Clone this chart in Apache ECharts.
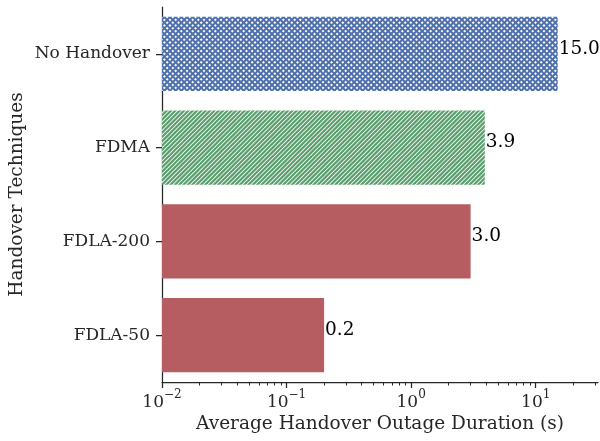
<!DOCTYPE html>
<html>
<head>
<meta charset="utf-8">
<script src="https://cdn.jsdelivr.net/npm/echarts@6/dist/echarts.min.js"></script>
<style>html,body{margin:0;padding:0;background:#fff}#c{width:600px;height:441px}</style>
</head>
<body>
<div id="c"></div>
<script>
const categories = ['No Handover', 'FDMA', 'FDLA-200', 'FDLA-50'];
const values = [15.0, 3.9, 3.0, 0.2];
const xMajorTicks = [0.01, 0.1, 1, 10];
const xMajorExponents = ['\u22122', '\u22121', '0', '1'];
const xMinorTicks = [0.02,0.03,0.04,0.05,0.06,0.07,0.08,0.09,0.2,0.3,0.4,0.5,0.6,0.7,0.8,0.9,2,3,4,5,6,7,8,9,20,30];
const xMin = 0.01, xMax = 31.6;

const FONT = 'DejaVu Serif';

function hatch(T, p, lw, color, both) {
  const c = document.createElement('canvas');
  c.width = T; c.height = T;
  const g = c.getContext('2d');
  g.fillStyle = '#fff'; g.fillRect(0, 0, T, T);
  g.strokeStyle = color; g.lineWidth = lw;
  for (let k = -6; k <= 12; k++) {
    const s = k * p;
    g.beginPath(); g.moveTo(s - T, 2 * T); g.lineTo(s + 2 * T, -T); g.stroke();
    if (both) { g.beginPath(); g.moveTo(s - T, -T); g.lineTo(s + 2 * T, 2 * T); g.stroke(); }
  }
  return c;
}
const bluePat = hatch(17, 17 / 3, 2.0, '#4e70ab', true);
const greenPat = hatch(13, 13 / 3, 2.2, '#5a9e6e', false);
const fills = [
  { image: bluePat, repeat: 'repeat' },
  { image: greenPat, repeat: 'repeat' },
  '#b55d60',
  '#b55d60'
];

const chart = echarts.init(document.getElementById('c'), null, { renderer: 'canvas' });
chart.setOption({
  animation: false,
  grid: { left: 162, right: 2, top: 7, bottom: 59, containLabel: false, outerBoundsMode: 'none' },
  xAxis: [{
    type: 'log', logBase: 10, min: xMin, max: xMax, startValue: xMin,
    name: 'Average Handover Outage Duration (s)', nameLocation: 'middle', nameGap: 33,
    nameMoveOverlap: false,
    nameTextStyle: { fontFamily: FONT, fontSize: 18.5, color: '#262626' },
    axisLine: { show: true, lineStyle: { color: '#262626', width: 1.25 } },
    axisTick: { show: true, length: 6, lineStyle: { color: '#262626', width: 1.25 }, customValues: xMajorTicks },
    axisLabel: {
      customValues: xMajorTicks, margin: 7,
      formatter: function (v) {
        let i = xMajorTicks.findIndex(t => Math.abs(Math.log10(t) - Math.log10(v)) < 1e-6);
        if (i < 0) return '';
        return '{b|10}{s|' + xMajorExponents[i] + '}';
      },
      rich: {
        b: { fontFamily: FONT, fontSize: 17, color: '#262626', lineHeight: 22, verticalAlign: 'bottom' },
        s: { fontFamily: FONT, fontSize: 12, color: '#262626', lineHeight: 22, verticalAlign: 'top' }
      }
    },
    splitLine: { show: false }, minorTick: { show: false }
  }, {
    type: 'log', logBase: 10, min: xMin, max: xMax, position: 'bottom', gridIndex: 0,
    axisLine: { show: false },
    axisTick: { show: true, length: 3.5, lineStyle: { color: '#262626', width: 1 }, customValues: xMinorTicks },
    axisLabel: { show: false, customValues: xMinorTicks },
    splitLine: { show: false }
  }],
  yAxis: {
    type: 'category', data: categories, inverse: true,
    name: 'Handover Techniques', nameLocation: 'middle', nameGap: 135, nameRotate: 90,
    nameMoveOverlap: false,
    nameTextStyle: { fontFamily: FONT, fontSize: 18.5, color: '#262626' },
    axisLine: { show: true, lineStyle: { color: '#262626', width: 1.25 } },
    axisTick: { show: true, length: 6, alignWithLabel: true, lineStyle: { color: '#262626', width: 1.25 } },
    axisLabel: { fontFamily: FONT, fontSize: 17, color: '#262626', margin: 12 },
    splitLine: { show: false }
  },
  series: [{
    type: 'bar', xAxisIndex: 0,
    barWidth: '79%',
    data: values.map((v, i) => ({ value: v, itemStyle: { color: fills[i] } })),
    label: {
      show: true, position: 'right', distance: 1, offset: [0, -5],
      fontFamily: FONT, fontSize: 18.5, color: '#000',
      formatter: p => p.value.toFixed(1)
    }
  }]
});
</script>
</body>
</html>
